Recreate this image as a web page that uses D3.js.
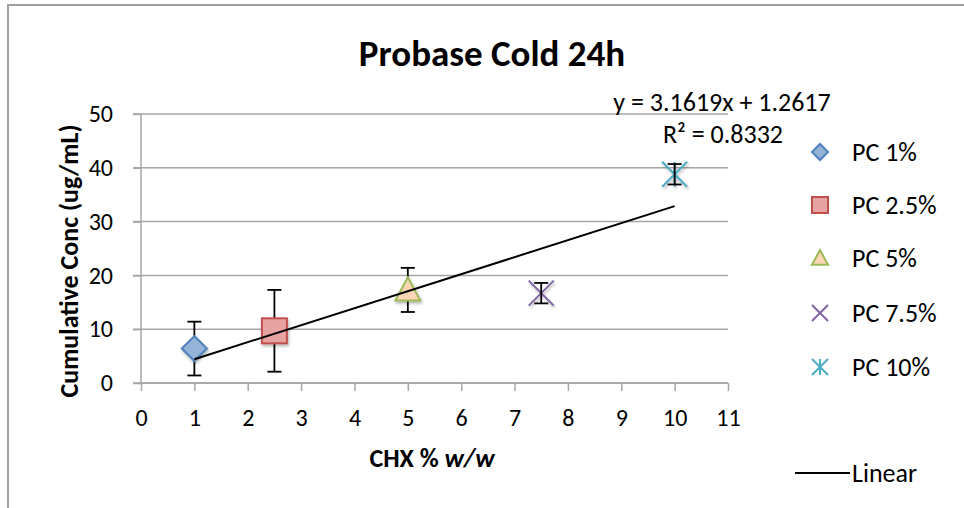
<!DOCTYPE html>
<html>
<head>
<meta charset="utf-8">
<script src="https://cdn.jsdelivr.net/npm/d3@7"></script>
<style>
  html, body { margin: 0; padding: 0; background: #fff; }
  svg { display: block; font-family: Carlito, Lato, "Open Sans", sans-serif; }
</style>
</head>
<body>
<svg id="chart" width="964" height="508"></svg>
<script>
// ---- data ----
const seriesNames = ["PC 1%", "PC 2.5%", "PC 5%", "PC 7.5%", "PC 10%"];
const xValues = [1, 2.5, 5, 7.5, 10];
const yValues = [6.4, 9.7, 17.3, 16.7, 38.8];
const errValues = [5.0, 7.6, 4.1, 1.9, 1.9];
const xTicks = [0, 1, 2, 3, 4, 5, 6, 7, 8, 9, 10, 11];
const yTicks = [0, 10, 20, 30, 40, 50];
const trendSlope = 3.1619;
const trendIntercept = 1.2617;
const equationText = "y = 3.1619x + 1.2617";
const r2Value = "0.8332";
const titleText = "Probase Cold 24h";
const yAxisTitle = "Cumulative Conc (ug/mL)";

// ---- styles ----
const markerStyles = [
  { shape: "diamond", fill: "#95b3d7", stroke: "#4f81bd" },
  { shape: "square", fill: "#e6a3a2", stroke: "#c0504d" },
  { shape: "triangle", fill: "#fcd5b4", stroke: "#9bbb59" },
  { shape: "x", fill: "none", stroke: "#8064a2" },
  { shape: "star", fill: "none", stroke: "#4bacc6" }
];
const gridColor = "#a6a6a6";

const svg = d3.select("#chart");

// drop shadow filter
const defs = svg.append("defs");
const f = defs.append("filter").attr("id", "shadow").attr("x", "-50%").attr("y", "-50%").attr("width", "200%").attr("height", "200%");
f.append("feDropShadow").attr("dx", 1).attr("dy", 2).attr("stdDeviation", 1.5).attr("flood-color", "#000").attr("flood-opacity", 0.3);

// outer border
svg.append("path")
  .attr("d", "M8,508 L8,5 L964,5")
  .attr("fill", "none").attr("stroke", "#a0a0a0").attr("stroke-width", 2);

const x = d3.scaleLinear().domain([0, 11]).range([141, 728]);
const y = d3.scaleLinear().domain([0, 50]).range([383, 114]);

// gridlines
svg.append("g").selectAll("line").data(yTicks).join("line")
  .attr("x1", x(0) - 8).attr("x2", x(11))
  .attr("y1", d => y(d)).attr("y2", d => y(d))
  .attr("stroke", gridColor).attr("stroke-width", 1.5);

// axes
const xAxis = svg.append("g").attr("transform", `translate(0,${y(0)})`)
  .call(d3.axisBottom(x).tickValues(xTicks).tickSize(8).tickPadding(20).tickFormat(d3.format("d")));
const yAxis = svg.append("g").attr("transform", `translate(${x(0)},0)`)
  .call(d3.axisLeft(y).tickValues(yTicks).tickSize(8).tickPadding(20).tickFormat(d3.format("d")));
[xAxis, yAxis].forEach(a => {
  a.select(".domain").attr("stroke", gridColor).attr("stroke-width", 1.5);
  a.selectAll(".tick line").attr("stroke", gridColor).attr("stroke-width", 1.5);
  a.selectAll(".tick text").attr("fill", "#000").style("font-size", "24px").style("font-family", "Carlito, Lato, sans-serif");
});
xAxis.selectAll(".tick text").attr("dy", "0.62em");
xAxis.select(".domain").attr("d", `M${x(0)},0H${x(11)}`);
yAxis.select(".domain").attr("d", `M0,${y(50)}V${y(0)}`);

// trend line
const trendX = [d3.min(xValues), d3.max(xValues)];

// marker drawing
function drawMarker(g, shape, st, s) {
  const h = s / 2;
  if (shape === "diamond") {
    g.append("path").attr("d", `M0,${-h}L${h},0L0,${h}L${-h},0Z`)
      .attr("fill", st.fill).attr("stroke", st.stroke).attr("stroke-width", 2);
  } else if (shape === "square") {
    g.append("rect").attr("x", -h).attr("y", -h).attr("width", s).attr("height", s)
      .attr("fill", st.fill).attr("stroke", st.stroke).attr("stroke-width", 2);
  } else if (shape === "triangle") {
    g.append("path").attr("d", `M0,${-h}L${h},${h * 0.85}L${-h},${h * 0.85}Z`)
      .attr("fill", st.fill).attr("stroke", st.stroke).attr("stroke-width", 2);
  } else if (shape === "x") {
    g.append("path").attr("d", `M${-h},${-h}L${h},${h}M${h},${-h}L${-h},${h}`)
      .attr("stroke", st.stroke).attr("stroke-width", 2);
  } else if (shape === "star") {
    g.append("path").attr("d", `M${-h},${-h}L${h},${h}M${h},${-h}L${-h},${h}M0,${-h}L0,${h}`)
      .attr("stroke", st.stroke).attr("stroke-width", 2);
  }
}

// points with error bars
seriesNames.forEach((name, i) => {
  const cx = x(xValues[i]), cy = y(yValues[i]);
  const st = markerStyles[i];
  const drawErr = () => {
    const eg = svg.append("g").attr("stroke", "#000").attr("stroke-width", 1.8);
    eg.append("line").attr("x1", cx).attr("x2", cx).attr("y1", y(yValues[i] + errValues[i])).attr("y2", y(yValues[i] - errValues[i]));
    [yValues[i] + errValues[i], yValues[i] - errValues[i]].forEach(v => {
      eg.append("line").attr("x1", cx - 7).attr("x2", cx + 7).attr("y1", y(v)).attr("y2", y(v));
    });
  };
  if (st.fill !== "none") {
    drawErr();
    const g2 = svg.append("g").attr("transform", `translate(${cx},${cy})`).attr("filter", "url(#shadow)");
    drawMarker(g2, st.shape, st, 25);
  } else {
    const g = svg.append("g").attr("transform", `translate(${cx},${cy})`).attr("filter", "url(#shadow)");
    drawMarker(g, st.shape, st, 25);
    drawErr();
  }
});

// trend line on top (it crosses markers in the reference)
svg.append("line")
  .attr("x1", x(trendX[0])).attr("y1", y(trendSlope * trendX[0] + trendIntercept))
  .attr("x2", x(trendX[1])).attr("y2", y(trendSlope * trendX[1] + trendIntercept))
  .attr("stroke", "#000").attr("stroke-width", 2);

// title
svg.append("text").attr("x", 492).attr("y", 66).attr("text-anchor", "middle")
  .style("font-size", "37px").style("font-weight", "bold").text(titleText);

// equation
svg.append("text").attr("x", 722).attr("y", 111).attr("text-anchor", "middle")
  .style("font-size", "26px").text(equationText);
const r2 = svg.append("text").attr("x", 723).attr("y", 143).attr("text-anchor", "middle").style("font-size", "26px");
r2.append("tspan").text("R");
r2.append("tspan").text("²");
r2.append("tspan").text(" = " + r2Value);

// axis titles
svg.append("text").attr("transform", `translate(78,261) rotate(-90)`).attr("text-anchor", "middle")
  .style("font-size", "26px").style("font-weight", "bold").text(yAxisTitle);
const xt = svg.append("text").attr("x", 432).attr("y", 467).attr("text-anchor", "middle")
  .style("font-size", "26px").style("font-weight", "bold");
xt.append("tspan").text("CHX % ");
xt.append("tspan").style("font-style", "italic").text("w/w");

// legend
const legendY = [152, 205, 258, 313, 367];
seriesNames.forEach((name, i) => {
  const g = svg.append("g").attr("transform", `translate(820,${legendY[i]})`);
  drawMarker(g, markerStyles[i].shape, markerStyles[i], 16);
  svg.append("text").attr("x", 852).attr("y", legendY[i]).attr("dy", "0.35em")
    .style("font-size", "26px").text(name);
});
svg.append("line").attr("x1", 795).attr("x2", 850).attr("y1", 473).attr("y2", 473)
  .attr("stroke", "#000").attr("stroke-width", 2);
svg.append("text").attr("x", 852).attr("y", 473).attr("dy", "0.35em")
  .style("font-size", "26px").text("Linear");
</script>
</body>
</html>
